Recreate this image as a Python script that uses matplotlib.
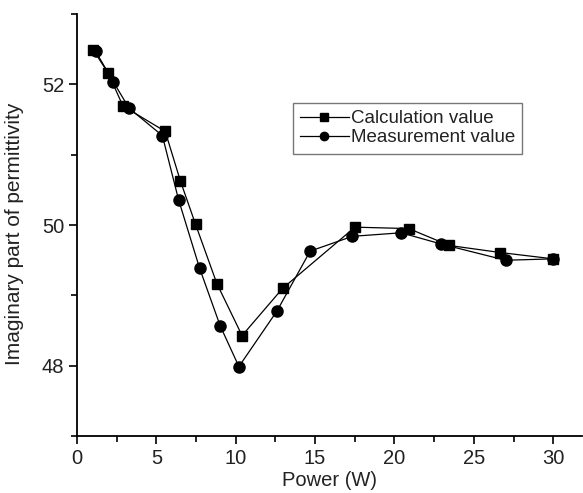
import matplotlib.pyplot as plt
from matplotlib.ticker import MultipleLocator

plt.rcParams['font.family'] = ['Liberation Sans', 'DejaVu Sans']

# Calculation value (squares)
calc_power = [1.02, 1.96, 2.90, 5.56, 6.51, 7.47, 8.81, 10.40, 12.95, 17.51, 20.90, 23.45, 26.66, 30.0]
calc_perm = [52.49, 52.16, 51.69, 51.33, 50.63, 50.01, 49.17, 48.43, 49.10, 49.97, 49.95, 49.71, 49.61, 49.52]

# Measurement value (circles)
meas_power = [1.17, 2.30, 3.28, 5.38, 6.40, 7.72, 9.02, 10.20, 12.60, 14.69, 17.35, 20.42, 22.95, 27.0, 30.0]
meas_perm = [52.47, 52.03, 51.66, 51.27, 50.36, 49.39, 48.57, 47.99, 48.78, 49.63, 49.84, 49.89, 49.73, 49.50, 49.52]

fig = plt.figure(figsize=(5.83, 4.93), dpi=100)
ax = fig.add_axes([0.132, 0.115, 0.866, 0.857])

ax.plot(calc_power, calc_perm, color="black", lw=0.9, marker="s", ms=7,
        label="Calculation value")
ax.plot(meas_power, meas_perm, color="black", lw=0.9, marker="o", ms=8,
        label="Measurement value")

ax.set_xlim(0, 31.8)
ax.set_ylim(47, 53)
ax.xaxis.set_major_locator(MultipleLocator(5))
ax.xaxis.set_minor_locator(MultipleLocator(2.5))
ax.yaxis.set_major_locator(MultipleLocator(2))
ax.yaxis.set_minor_locator(MultipleLocator(1))

for side in ["top", "right"]:
    ax.spines[side].set_visible(False)
for side in ["left", "bottom"]:
    ax.spines[side].set_linewidth(1.3)

ax.tick_params(which="major", direction="out", length=6, width=1.2,
               labelsize=14.5, labelcolor="#222222", pad=3)
ax.tick_params(which="minor", direction="out", length=4, width=1.2)

ax.set_xlabel("Power (W)", fontsize=14.5, color="#222222", labelpad=2)
ax.set_ylabel("Imaginary part of permittivity", fontsize=15, color="#222222")
ax.yaxis.set_label_coords(-0.105, 0.48)

leg = ax.legend(loc="upper left", bbox_to_anchor=(0.427, 0.79), fontsize=13.5,
                frameon=True, fancybox=False, borderpad=0.4, labelspacing=0.1,
                handlelength=2.6, handletextpad=0.1, borderaxespad=0,
                markerscale=0.75)
leg.get_frame().set_edgecolor("#555555")
leg.get_frame().set_linewidth(1.0)
for t in leg.get_texts():
    t.set_color("#222222")

fig.savefig("out.png", dpi=100)
